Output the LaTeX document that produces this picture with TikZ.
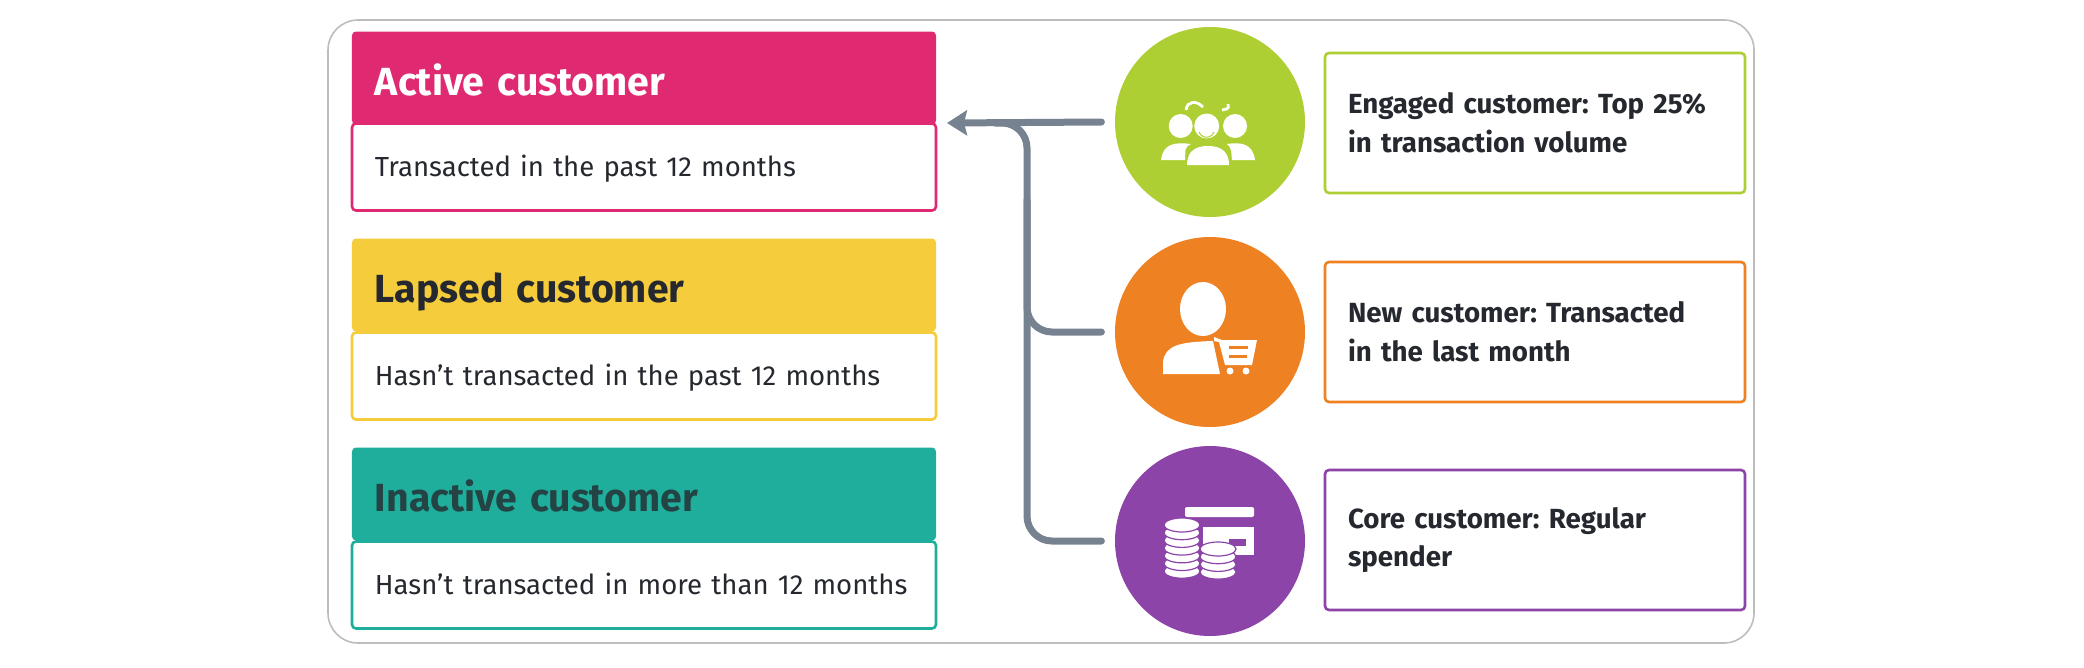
\documentclass[tikz,border=0pt]{standalone}
\usepackage{fontspec}
\setmainfont{Fira Sans}
\frenchspacing
\usetikzlibrary{arrows.meta, calc}
\definecolor{activepink}{HTML}{DF2A72}
\definecolor{lapsedyellow}{HTML}{F5CC3B}
\definecolor{inactiveteal}{HTML}{1FAE9B}
\definecolor{engagedgreen}{HTML}{ADCF33}
\definecolor{neworange}{HTML}{EE8122}
\definecolor{corepurple}{HTML}{8C44A8}
\definecolor{linkgrey}{HTML}{76828F}
\definecolor{inkdark}{HTML}{25282E}
\definecolor{framegrey}{HTML}{BDBDBD}
\tikzset{
  headbox/.style={rounded corners=1mm, inner xsep=5.75mm, inner ysep=0, minimum height=23.25mm, text width=134.5mm, text height=9.75mm, text depth=1.25mm, align=left, font=\fontsize{27.9}{30}\selectfont\bfseries},
  textbox/.style={draw=#1, fill=white, line width=0.65mm, rounded corners=1mm, inner xsep=5.75mm, inner ysep=0, minimum height=21.75mm, text width=134.5mm, text height=7mm, text depth=2.1mm, align=left, text=inkdark, font=\fontsize{19.6}{24}\selectfont},
  notebox/.style={draw=#1, fill=white, line width=0.65mm, rounded corners=1mm, inner xsep=5.75mm, inner ysep=0, minimum height=35mm, text width=93.5mm, align=left, text=inkdark, font=\fontsize{19.7}{27.5}\selectfont\bfseries},
  badge/.style={circle, fill=#1, minimum size=47.5mm, inner sep=0, outer sep=3.4mm},
  link/.style={draw=linkgrey, line width=1.75mm, line cap=round},
}
\newcommand{\coinstack}[4]{%
    \foreach \n in {1,...,#3} {
        \filldraw[fill=white, draw=corepurple, line width=0.3mm] ($(#1, #2) + (0, {(#3-\n)*7.7})$) ellipse (#4 and 7);
    }
}
\begin{document}
\begin{tikzpicture}[x=0.25mm, y=-0.25mm]
\useasboundingbox (0, 0) rectangle (2084, 667);

% outer frame
\draw[framegrey, line width=0.4mm, rounded corners=7.5mm] (328, 20) rectangle (1754, 643);

% left column
\node[headbox, fill=activepink, text=white] (activehead) at (644, 78) {Active customer};
\node[textbox=activepink] (activetext) at (644, 167) {Transacted in the past 12 months};
\node[headbox, fill=lapsedyellow, text=inkdark] (lapsedhead) at (644, 285) {Lapsed customer};
\node[textbox=lapsedyellow] (lapsedtext) at (644, 376) {Hasn't transacted in the past 12 months};
\node[headbox, fill=inactiveteal, text=inkdark!80!inactiveteal] (inactivehead) at (644, 494) {Inactive customer};
\node[textbox=inactiveteal] (inactivetext) at (644, 585) {Hasn't transacted in more than 12 months};

% circles
\node[badge=engagedgreen] (engaged) at (1210, 122) {};
\node[badge=neworange] (new) at (1210, 332) {};
\node[badge=corepurple] (core) at (1210, 541) {};

% right column
\node[notebox=engagedgreen] (engagednote) at (1535, 123) {Engaged customer: Top 25\%\\in transaction volume};
\node[notebox=neworange] (newnote) at (1535, 332) {New customer: Transacted\\in the last month};
\node[notebox=corepurple] (corenote) at (1535, 540) {Core customer: Regular\\spender};

% connectors
\coordinate (arrowtip) at (947, 123);
\coordinate (spinetop) at (1027, 123);
\coordinate (spinemid) at (1027, 200);
\draw[link, rounded corners=6.25mm] (core.west) -| (spinetop) -- (995, 123);
\draw[link, rounded corners=6.25mm] (new.west) -| (spinemid);
\draw[link, -{Stealth[length=5mm, width=6.25mm, inset=0.75mm]}] (engaged.west) -- (arrowtip);

% engaged icon
\fill[white] (1180.7, 126) circle (12);
\fill[white] (1235, 126) circle (12);
\fill[white] (1206.7, 126) circle (12.5);
\draw[engagedgreen, line width=0.25mm] (1199, 132) arc[start angle=200, end angle=340, x radius=8, y radius=-8];
\fill[white] (1161, 160) .. controls (1163, 143) and (1176, 142) .. (1191, 144) .. controls (1183, 148) and (1186, 152) .. (1185, 160) -- cycle;
\fill[white] (1187, 165) .. controls (1187, 150) and (1197, 146) .. (1208, 146) .. controls (1219, 146) and (1229, 150) .. (1229, 165) -- cycle;
\fill[white] (1255, 160) .. controls (1253, 143) and (1240, 142) .. (1227, 144) .. controls (1232, 148) and (1231, 152) .. (1232, 160) -- cycle;
\draw[white, line width=0.7mm] (1186, 110) .. controls (1187, 101) and (1196, 100) .. (1203, 107);
\draw[white, line width=0.7mm] (1228, 104) .. controls (1230, 110) and (1225, 109) .. (1222, 110);

% new icon
\fill[white] (1203, 309) ellipse (23 and 27);
\fill[white] (1163, 374) -- (1163, 362) .. controls (1165, 345) and (1180, 342) .. (1213, 341) -- (1220, 374) -- cycle;
\fill[white] (1214, 337) -- (1222, 340) -- (1257, 340) -- (1252, 365) -- (1225, 365) -- (1219, 342) -- (1214, 341) -- cycle;
\fill[neworange] (1229, 346) rectangle (1248, 349);
\fill[neworange] (1229, 355) rectangle (1247, 358);
\fill[white] (1230, 371) circle (3.5);
\fill[white] (1246, 371) circle (3.5);

% core icon
\fill[white, rounded corners=0.5mm] (1185, 507) rectangle (1254, 517);
\fill[white] (1203, 527) rectangle (1254, 555);
\fill[corepurple] (1229, 539) rectangle (1246, 546);
\coinstack{1182}{525}{7}{18}
\coinstack{1218}{549}{4}{18}
\end{tikzpicture}
\end{document}
